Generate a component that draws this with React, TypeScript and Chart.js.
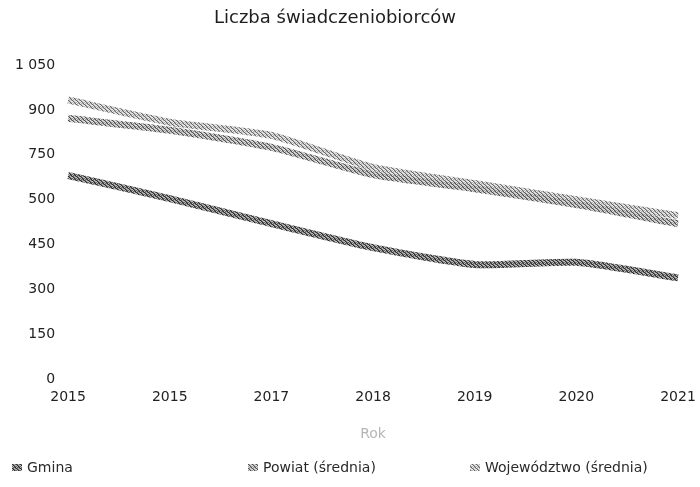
import React, { useEffect, useRef } from 'react';
import { Chart, registerables } from 'chart.js';

Chart.register(...registerables);

const chartTitle = 'Liczba świadczeniobiorców';
const xAxisTitle = 'Rok';
const years = ['2015', '2015', '2017', '2018', '2019', '2020', '2021'];
const gmina = [681, 604, 520, 440, 384, 391, 339];
const powiat = [872, 832, 775, 684, 637, 584, 520];
const wojewodztwo = [933, 859, 815, 708, 654, 600, 547];
const seriesNames = ['Gmina', 'Powiat (średnia)', 'Województwo (średnia)'];
const yTickLabels = ['0', '150', '300', '450', '500', '750', '900', '1 050'];

const FONT = "'DejaVu Sans', Verdana, sans-serif";

function makePattern(dark: string, mid: string, light: string): CanvasPattern | string {
  const c = document.createElement('canvas');
  c.width = 4;
  c.height = 4;
  const g = c.getContext('2d');
  if (!g) return mid;
  const map = [
    [0, 1, 2, 1],
    [2, 0, 1, 2],
    [1, 2, 0, 1],
    [2, 1, 1, 0],
  ];
  const cols = [dark, mid, light];
  for (let y = 0; y < 4; y++) {
    for (let x = 0; x < 4; x++) {
      g.fillStyle = cols[map[y][x]];
      g.fillRect(x, y, 1, 1);
    }
  }
  const p = g.createPattern(c, 'repeat');
  return p || mid;
}

export default function App() {
  const ref = useRef<HTMLCanvasElement | null>(null);

  useEffect(() => {
    document.body.style.margin = '0';
    const canvas = ref.current;
    if (!canvas) return;

    const patGmina = makePattern('#2a2a2a', '#6a6a6a', '#bdbdbd');
    const patPowiat = makePattern('#4e4e4e', '#a0a0a0', '#e0e0e0');
    const patWoj = makePattern('#666666', '#b8b8b8', '#ececec');
    const pats = [patGmina, patPowiat, patWoj];

    const overlay = {
      id: 'overlay',
      afterDraw(chart: any) {
        const ctx = chart.ctx as CanvasRenderingContext2D;
        ctx.save();
        ctx.font = `normal 18px ${FONT}`;
        ctx.fillStyle = '#1e1e1e';
        ctx.textAlign = 'center';
        ctx.textBaseline = 'middle';
        ctx.fillText(chartTitle, 335, 18);

        const legendX = [12, 248, 470];
        ctx.font = `normal 14px ${FONT}`;
        ctx.textAlign = 'left';
        seriesNames.forEach((name, i) => {
          const x = legendX[i];
          ctx.fillStyle = pats[i] as any;
          ctx.fillRect(x, 464, 10, 7);
          ctx.fillStyle = '#2a2a2a';
          ctx.fillText(name, x + 15, 468);
        });
        ctx.restore();
      },
    };

    const mkDs = (label: string, data: number[], pat: any) => ({
      label,
      data,
      borderColor: pat,
      backgroundColor: pat,
      borderWidth: 7,
      pointRadius: 0,
      tension: 0.2,
    });

    const chart = new Chart(canvas, {
      type: 'line',
      data: {
        labels: years,
        datasets: [
          mkDs(seriesNames[0], gmina, patGmina),
          mkDs(seriesNames[1], powiat, patPowiat),
          mkDs(seriesNames[2], wojewodztwo, patWoj),
        ],
      },
      options: {
        responsive: false,
        animation: false,
        layout: { padding: { top: 65, left: 2, right: 22, bottom: 44 } },
        plugins: {
          legend: { display: false },
          title: { display: false },
          tooltip: { enabled: false },
        },
        scales: {
          x: {
            offset: false,
            grid: { display: false, drawTicks: false },
            border: { display: false },
            afterFit: (scale: any) => {
              scale.paddingLeft = 0;
              scale.paddingRight = 0;
            },
            ticks: {
              padding: 10,
              color: '#222',
              font: { family: FONT, size: 14 },
              maxRotation: 0,
              autoSkip: false,
            },
            title: {
              display: true,
              text: xAxisTitle,
              color: '#b5b5b5',
              font: { family: FONT, size: 14 },
              padding: { top: 10, bottom: 0 },
            },
          },
          y: {
            min: 0,
            max: 1050,
            grid: { display: false, drawTicks: false },
            border: { display: false },
            ticks: {
              stepSize: 150,
              padding: 13,
              color: '#222',
              font: { family: FONT, size: 14 },
              callback: (_v: any, i: number) => yTickLabels[i],
            },
          },
        },
      },
      plugins: [overlay],
    });

    return () => chart.destroy();
  }, []);

  return (
    <div style={{ width: 700, height: 487, background: '#fff' }}>
      <canvas ref={ref} width={700} height={487} style={{ display: 'block' }} />
    </div>
  );
}
